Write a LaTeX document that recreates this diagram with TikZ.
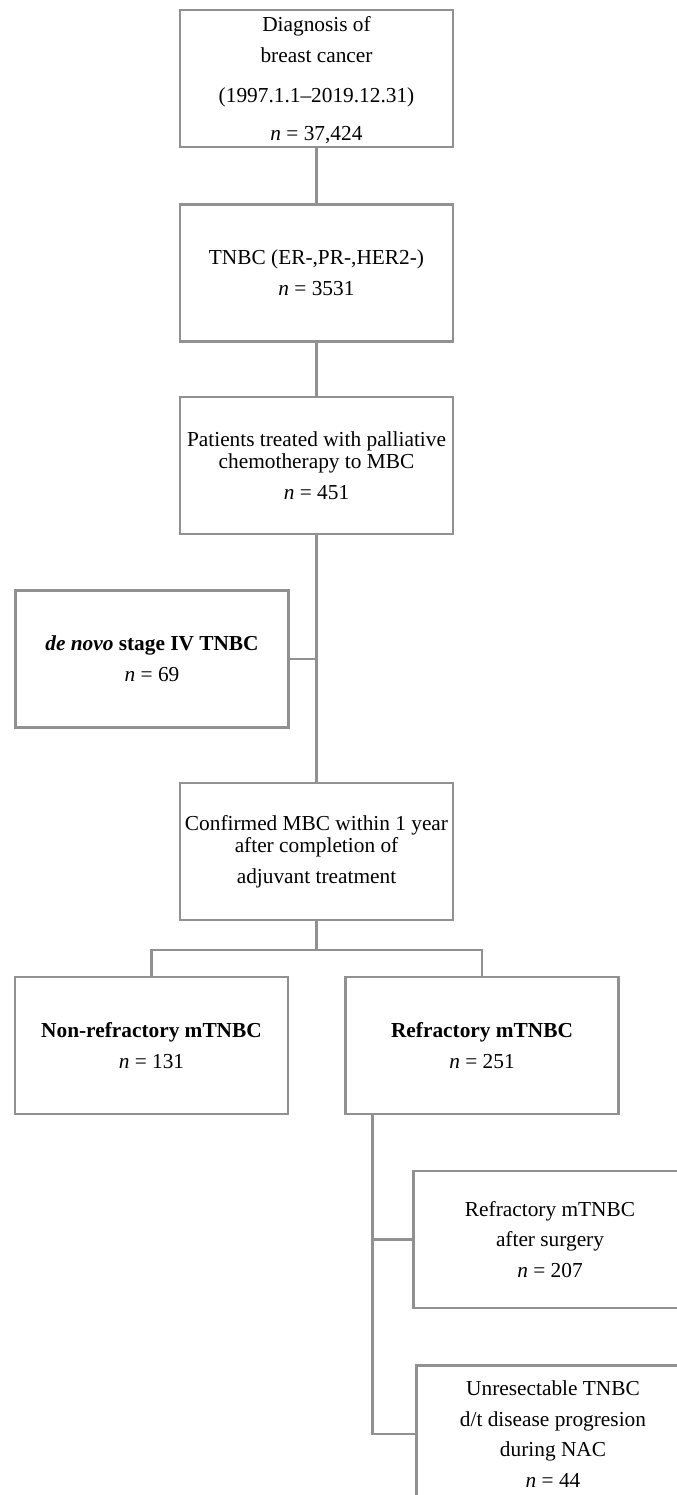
\documentclass[tikz,border=0pt]{standalone}
\usepackage{fontspec}
\setmainfont{Liberation Serif}
\definecolor{linegray}{RGB}{145,145,145}
\begin{document}
\begin{tikzpicture}[x=0.75pt,y=-0.75pt,
  stagebox/.style={draw=linegray, line width=2pt, minimum width=204.75pt,
    minimum height=102.75pt, align=center, inner sep=2pt,
    font=\fontsize{16}{23}\selectfont},
  link/.style={draw=linegray, line width=2pt}]
\useasboundingbox (0,0) rectangle (676,1495);
\node[stagebox] (diag) at (316.5,78.5) {\rule{0pt}{14pt}Diagnosis of\\ breast cancer\\[7pt] (1997.1.1--2019.12.31)\\[5.5pt] \textit{n} = 37,424};
\node[stagebox] (tnbc) at (316.5,273) {TNBC (ER-,PR-,HER2-)\\ \textit{n} = 3531};
\node[stagebox] (pall) at (316.5,465.5) {Patients treated with palliative\\[-6.5pt] chemotherapy to MBC\\ \textit{n} = 451};
\node[stagebox] (novo) at (152,659) {\textbf{\textit{de novo} stage IV TNBC}\\ \textit{n} = 69};
\node[stagebox] (conf) at (316.5,851.5) {Confirmed MBC within 1 year\\[-6.5pt] after completion of\\ adjuvant treatment};
\node[stagebox] (nonref) at (151.5,1045.5) {\textbf{Non-refractory mTNBC}\\ \textit{n} = 131};
\node[stagebox] (ref) at (482,1045.5) {\textbf{Refractory mTNBC}\\ \textit{n} = 251};
\node[stagebox] (surg) at (550,1239.5) {Refractory mTNBC\\ after surgery\\ \textit{n} = 207};
\node[stagebox] (unres) at (553,1434) {Unresectable TNBC\\ d/t disease progresion\\ during NAC\\ \textit{n} = 44};
% main trunk
\draw[link] (diag) -- (tnbc);
\draw[link] (tnbc) -- (pall);
\draw[link] (pall) -- (conf);
\draw[link] (novo.east) -- (novo.east -| pall.south);
% split into refractory groups
\coordinate (split) at (316.5,950);
\draw[link] (conf) -- (split);
\draw[link] (nonref.north) |- (split) -| (ref.north);
% refractory subgroups
\coordinate (reftrunk) at ([xshift=21pt]ref.south west);
\draw[link] (reftrunk) |- (surg.west);
\draw[link] (reftrunk) |- (unres.west);
\end{tikzpicture}
\end{document}
